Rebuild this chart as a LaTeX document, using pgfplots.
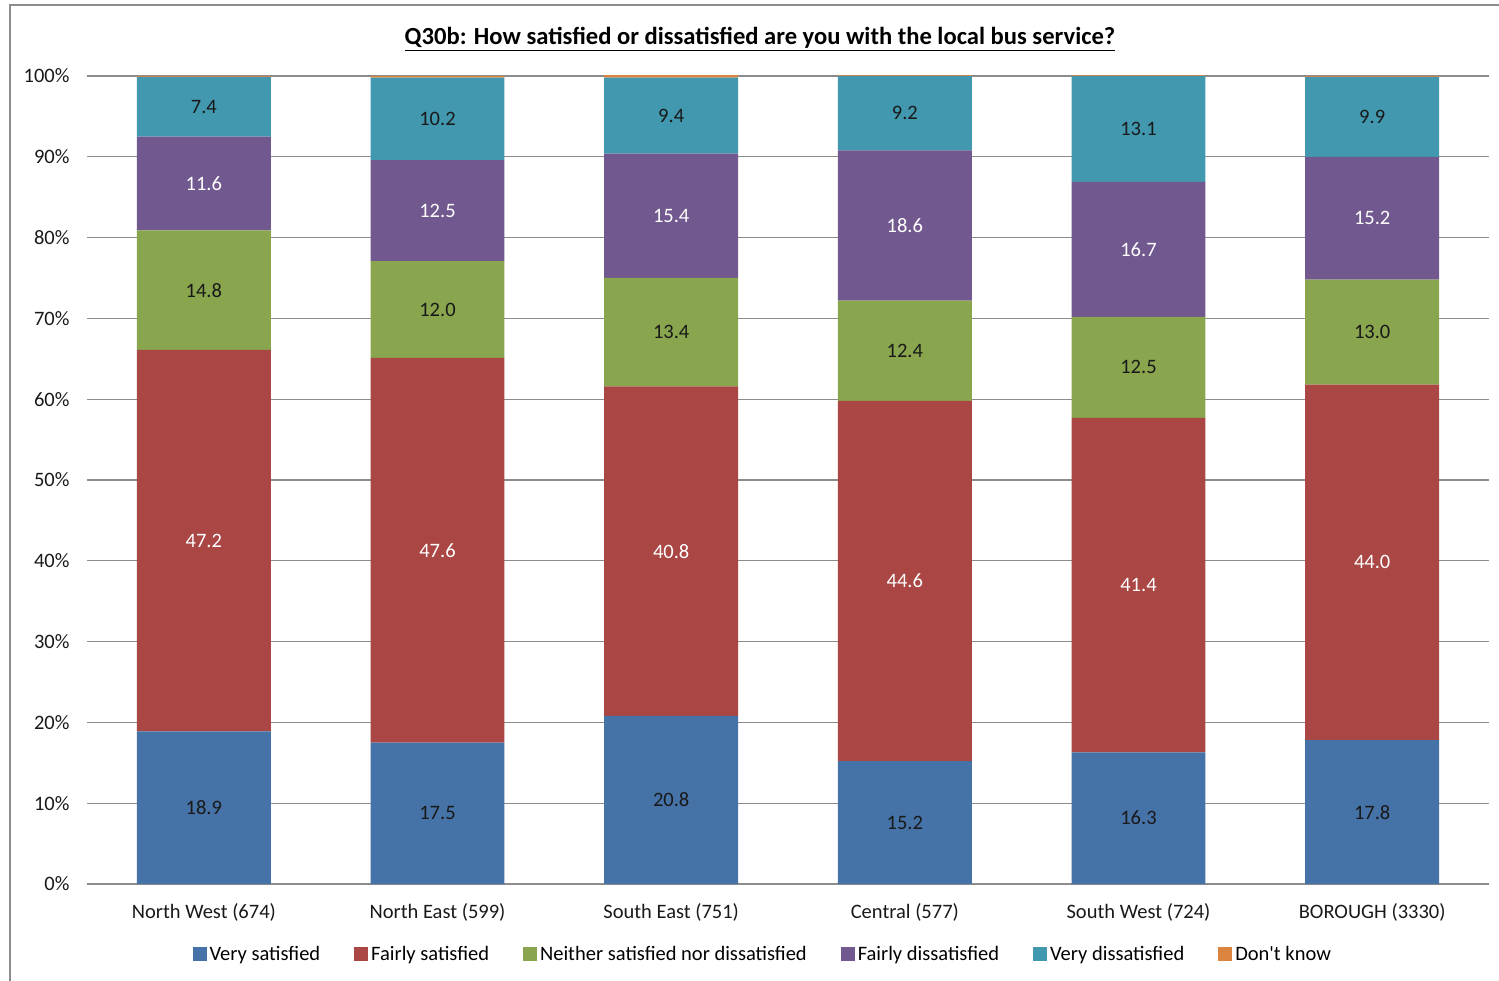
\documentclass[border=0pt]{standalone}
\usepackage{fontspec}
\setmainfont{Carlito}
\usepackage{pgfplots}
\usepackage{pgfplotstable}
\pgfplotsset{compat=1.18}
\definecolor{cVS}{HTML}{4572A7}
\definecolor{cFS}{HTML}{AA4643}
\definecolor{cNE}{HTML}{89A54E}
\definecolor{cFD}{HTML}{71588F}
\definecolor{cVD}{HTML}{4198AF}
\definecolor{cDK}{HTML}{DB843D}
\pgfplotstableread{
x vs fs ne fd vd dk
0 18.9 47.2 14.8 11.6 7.4 0.1
1 17.5 47.6 12.0 12.5 10.2 0.2
2 20.8 40.8 13.4 15.4 9.4 0.3
3 15.2 44.6 12.4 18.6 9.2 0.1
4 16.3 41.4 12.5 16.7 13.1 0.1
5 17.8 44.0 13.0 15.2 9.9 0.1
}\data
\newcommand{\lblfont}{\fontsize{20.5bp}{24bp}\selectfont}
\pgfplotsset{
  lbl/.style={
    nodes near coords={\pgfmathprintnumber[fixed,fixed zerofill,precision=1]{\pgfplotspointmeta}},
    point meta=explicit,
    every node near coord/.append style={font=\lblfont, anchor=center},
  }
}
\begin{document}
\begin{tikzpicture}
\path[use as bounding box] (0,0) rectangle (1499bp,981bp);
\draw[black!45, line width=1.5bp] (10bp,-20bp) -- (10bp,976bp) -- (1520bp,976bp);
\node[font=\fontsize{24.6bp}{28bp}\selectfont\bfseries] at (760bp,942bp) {\underline{Q30b: How satisfied or dissatisfied are you with the local bus service?}};
\begin{axis}[
  at={(87bp,97bp)}, anchor=south west,
  scale only axis, width=1402bp, height=808bp,
  ybar stacked, bar width=0.573,
  xmin=-0.5, xmax=5.5, ymin=0, ymax=100,
  clip=false,
  xtick=data,
  xticklabels={North West (674),North East (599),South East (751),Central (577),South West (724),BOROUGH (3330)},
  ytick={0,10,...,100},
  yticklabel={\pgfmathprintnumber{\tick}\%},
  /pgf/number format/assume math mode=true,
  major tick length=0,
  axis line style={draw=none},
  ymajorgrids, major grid style={black!45, line width=1.2bp},
  ticklabel style={font=\lblfont, text=black!90},
  yticklabel style={xshift=-14bp},
  xticklabel style={yshift=-16bp},
  legend columns=6,
  legend style={at={(0.482,-0.0866)}, anchor=center, draw=none, font=\lblfont,
    /tikz/every even column/.append style={column sep=32bp},
    /tikz/every odd column/.append style={column sep=1bp}},
  legend image code/.code={\fill[#1] (0bp,-7bp) rectangle (14bp,7bp);},
]
\addplot+[fill=cVS, draw=none, lbl, every node near coord/.append style={text=black!90}] table[x=x, y=vs, meta=vs]{\data};
\addplot+[fill=cFS, draw=none, lbl, every node near coord/.append style={text=white}] table[x=x, y=fs, meta=fs]{\data};
\addplot+[fill=cNE, draw=none, lbl, every node near coord/.append style={text=black!90}] table[x=x, y=ne, meta=ne]{\data};
\addplot+[fill=cFD, draw=none, lbl, every node near coord/.append style={text=white}] table[x=x, y=fd, meta=fd]{\data};
\addplot+[fill=cVD, draw=none, lbl, every node near coord/.append style={text=black!90}] table[x=x, y=vd, meta=vd]{\data};
\addplot+[fill=cDK, draw=none] table[x=x, y=dk]{\data};
\legend{Very satisfied, Fairly satisfied, Neither satisfied nor dissatisfied, Fairly dissatisfied, Very dissatisfied, Don\textquotesingle t know}
\end{axis}
\end{tikzpicture}
\end{document}
